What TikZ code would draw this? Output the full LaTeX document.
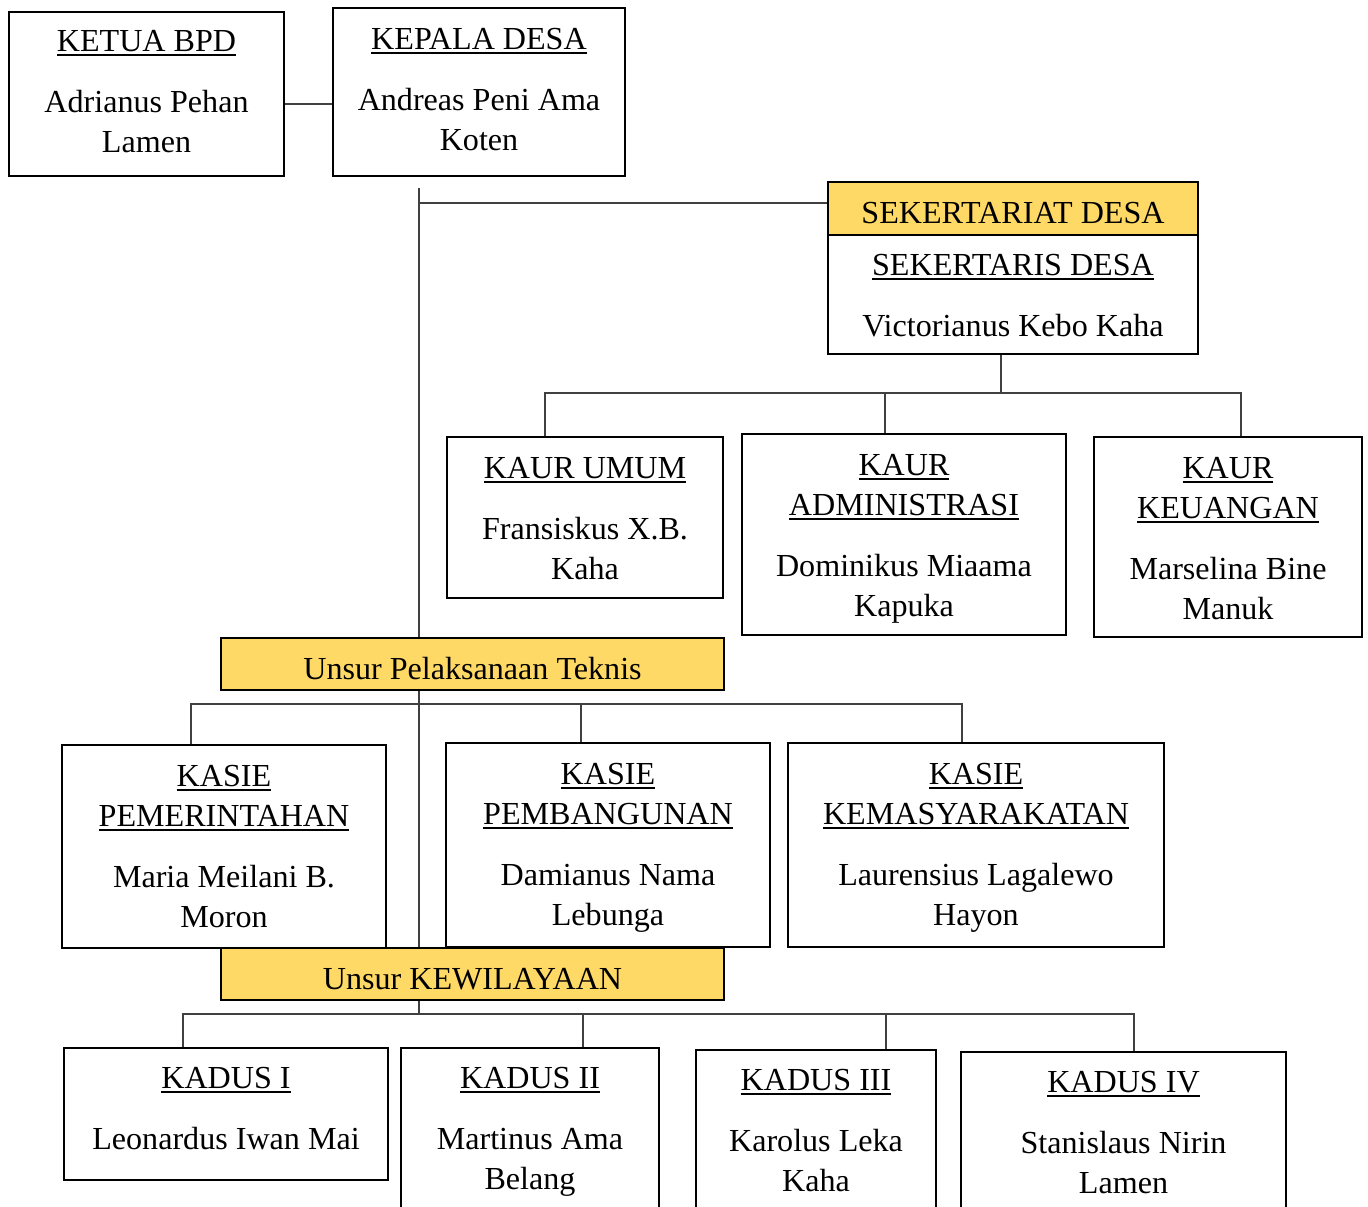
\documentclass[tikz,border=0pt]{standalone}
\usepackage{fontspec}
\setmainfont{Liberation Serif}
\usetikzlibrary{backgrounds}
\definecolor{gold}{HTML}{FFD966}
\newcommand\ulx[1]{\setbox0\hbox{#1}\rlap{\rule[-5pt]{\wd0}{1.9pt}}\box0}
\begin{document}
\begin{tikzpicture}[x=1pt,y=-1pt,
  box/.style={draw=black,line width=2.4pt,fill=white,inner sep=0pt,outer sep=0pt},
  gbox/.style={box,fill=gold},
  txt/.style={anchor=north,inner sep=0pt,align=center,font=\fontsize{32.1}{40}\selectfont,yshift=-17pt},
  conn/.style={draw=black!75,line width=1.3pt}]
\useasboundingbox (0,0) rectangle (1368,1207);
\clip (0,0) rectangle (1368,1207);
% boxes
\node[box,minimum width=275pt,minimum height=164pt] (bpd) at (146.5,94) {};
\node[box,minimum width=292pt,minimum height=168pt] (kades) at (479,92) {};
\node[gbox,minimum width=370pt,minimum height=53pt] (sekt) at (1013,208.5) {};
\node[box,minimum width=370pt,minimum height=119pt] (sekd) at (1013,294.5) {};
\node[box,minimum width=276pt,minimum height=161pt] (kumum) at (585,517.5) {};
\node[box,minimum width=324pt,minimum height=201pt] (kadm) at (904,534.5) {};
\node[box,minimum width=268pt,minimum height=200pt] (kkeu) at (1228,537) {};
\node[gbox,minimum width=503pt,minimum height=52pt] (upt) at (472.5,664) {};
\node[box,minimum width=324pt,minimum height=203pt] (kpem) at (224,846.5) {};
\node[box,minimum width=324pt,minimum height=204pt] (kpbg) at (608,845) {};
\node[box,minimum width=376pt,minimum height=204pt] (kmas) at (976,845) {};
\node[gbox,minimum width=503pt,minimum height=52pt] (ukw) at (472.5,974) {};
\node[box,minimum width=324pt,minimum height=132pt] (kd1) at (226,1114) {};
\node[box,minimum width=258pt,minimum height=192pt] (kd2) at (530,1144) {};
\node[box,minimum width=240pt,minimum height=190pt] (kd3) at (816,1145) {};
\node[box,minimum width=325pt,minimum height=188pt] (kd4) at (1123.5,1146) {};
% texts
\node[txt,yshift=2pt] (tbpd) at (bpd.north) {\rule{0pt}{24pt}\ulx{KETUA BPD}\\[21pt]Adrianus Pehan\\Lamen};
\node[txt] (tkades) at (kades.north) {\rule{0pt}{24pt}\ulx{KEPALA DESA}\\[21pt]Andreas Peni Ama\\Koten};
\node[txt] (tsekt) at (sekt.north) {\rule{0pt}{24pt}SEKERTARIAT DESA};
\node[txt,yshift=1pt] (tsekd) at (sekd.north) {\rule{0pt}{24pt}\ulx{SEKERTARIS DESA}\\[21pt]Victorianus Kebo Kaha};
\node[txt] (tkumum) at (kumum.north) {\rule{0pt}{24pt}\ulx{KAUR UMUM}\\[21pt]Fransiskus X.B.\\Kaha};
\node[txt] (tkadm) at (kadm.north) {\rule{0pt}{24pt}\ulx{KAUR}\\\ulx{ADMINISTRASI}\\[21pt]Dominikus Miaama\\Kapuka};
\node[txt] (tkkeu) at (kkeu.north) {\rule{0pt}{24pt}\ulx{KAUR}\\\ulx{KEUANGAN}\\[21pt]Marselina Bine\\Manuk};
\node[txt] (tupt) at (upt.north) {\rule{0pt}{24pt}Unsur Pelaksanaan Teknis};
\node[txt] (tkpem) at (kpem.north) {\rule{0pt}{24pt}\ulx{KASIE}\\\ulx{PEMERINTAHAN}\\[21pt]Maria Meilani B.\\Moron};
\node[txt] (tkpbg) at (kpbg.north) {\rule{0pt}{24pt}\ulx{KASIE}\\\ulx{PEMBANGUNAN}\\[21pt]Damianus Nama\\Lebunga};
\node[txt] (tkmas) at (kmas.north) {\rule{0pt}{24pt}\ulx{KASIE}\\\ulx{KEMASYARAKATAN}\\[21pt]Laurensius Lagalewo\\Hayon};
\node[txt] (tukw) at (ukw.north) {\rule{0pt}{24pt}Unsur KEWILAYAAN};
\node[txt,yshift=1pt] (tkd1) at (kd1.north) {\rule{0pt}{24pt}\ulx{KADUS I}\\[21pt]Leonardus Iwan Mai};
\node[txt,yshift=1pt] (tkd2) at (kd2.north) {\rule{0pt}{24pt}\ulx{KADUS II}\\[21pt]Martinus Ama\\Belang};
\node[txt,yshift=1pt] (tkd3) at (kd3.north) {\rule{0pt}{24pt}\ulx{KADUS III}\\[21pt]Karolus Leka\\Kaha};
\node[txt,yshift=1pt] (tkd4) at (kd4.north) {\rule{0pt}{24pt}\ulx{KADUS IV}\\[21pt]Stanislaus Nirin\\Lamen};
% connectors
\begin{scope}[on background layer]
\draw[conn] ([yshift=-10pt]bpd.east) -- ([yshift=-10pt]bpd.east -| kades.west);
\coordinate (tt) at (419,188);
\coordinate (tb) at (419,1014);
\coordinate (t1) at (419,203);
\draw[conn] (tt) -- (tb);
\draw[conn] (t1) -- (t1 -| sekt.west);
\coordinate (sd) at (1001,393);
\coordinate (ka) at (545,393);
\coordinate (kb) at (885,393);
\coordinate (kc) at (1241,393);
\draw[conn] (sd) -- (sd |- sekd.south);
\draw[conn] (ka |- kumum.north) -- (ka) -- (kc) -- (kc |- kkeu.north);
\draw[conn] (kb) -- (kb |- kadm.north);
\coordinate (pa) at (191,704);
\coordinate (pb) at (581,704);
\coordinate (pc) at (962,704);
\draw[conn] (pa |- kpem.north) -- (pa) -- (pc) -- (pc |- kmas.north);
\draw[conn] (pb) -- (pb |- kpbg.north);
\coordinate (da) at (183,1014);
\coordinate (db) at (583,1014);
\coordinate (dc) at (886,1014);
\coordinate (dd) at (1134,1014);
\draw[conn] (da |- kd1.north) -- (da) -- (dd) -- (dd |- kd4.north);
\draw[conn] (db) -- (db |- kd2.north);
\draw[conn] (dc) -- (dc |- kd3.north);
\end{scope}
\end{tikzpicture}
\end{document}
